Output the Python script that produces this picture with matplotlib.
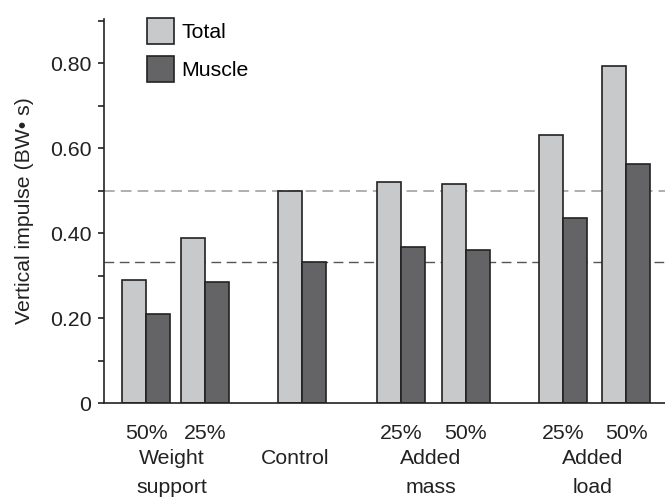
import matplotlib.pyplot as plt
from matplotlib.ticker import MultipleLocator

# impulse per condition (BW*s)
levels = ['50%', '25%', '', '25%', '50%', '25%', '50%']
total = [0.29, 0.39, 0.50, 0.52, 0.515, 0.632, 0.795]
muscle = [0.21, 0.285, 0.333, 0.367, 0.36, 0.435, 0.563]
groups = [('Weight', 'support'), ('Control', ''), ('Added', 'mass'), ('Added', 'load')]

xpos = [0, 0.98, 2.58, 4.24, 5.31, 6.93, 7.98]
group_x = [0.42, 2.47, 4.73, 7.42]
control = 2

light = '#c8c9cb'
dark = '#646466'
ink = '#222222'
w = 0.4
fs = 15.3

plt.rcParams['font.family'] = ['Liberation Sans', 'DejaVu Sans']

fig = plt.figure(figsize=(6.65, 4.97), dpi=100)
ax = fig.add_axes([0.156, 0.189, 0.86, 0.773])

ax.axhline(total[control], color='#9a9a9a', lw=1.1, dashes=(7, 4), zorder=1)
ax.axhline(muscle[control], color='#555555', lw=1.0, dashes=(7, 4), zorder=1)

ax.bar([x - w / 2 for x in xpos], total, width=w, color=light,
       edgecolor=ink, lw=1.2, label='Total', zorder=2)
ax.bar([x + w / 2 for x in xpos], muscle, width=w, color=dark,
       edgecolor=ink, lw=1.2, label='Muscle', zorder=2)

ax.set_xlim(-0.71, 8.8)
ax.set_ylim(0, 0.905)
ax.yaxis.set_minor_locator(MultipleLocator(0.1))
ax.set_yticks([0, 0.2, 0.4, 0.6, 0.8])
ax.set_yticklabels(['0', '0.20', '0.40', '0.60', '0.80'])
ax.tick_params(axis='y', which='both', length=4, width=1.2, direction='out',
               labelsize=fs, pad=5, color=ink, labelcolor=ink)
ax.set_xticks([])
for s in ['top', 'right']:
    ax.spines[s].set_visible(False)
for s in ['left', 'bottom']:
    ax.spines[s].set_linewidth(1.2)
    ax.spines[s].set_color(ink)

ax.set_ylabel('Vertical impulse (BW\u2022 s)', fontsize=fs, labelpad=11, color=ink)

# condition labels under the bars
for x, lab in zip(xpos, levels):
    if lab:
        ax.text(x, -0.071, lab, ha='center', va='center', fontsize=fs,
                color=ink, clip_on=False)
for x, (top, bottom) in zip(group_x, groups):
    ax.text(x, -0.13, top, ha='center', va='center', fontsize=fs,
            color=ink, clip_on=False)
    if bottom:
        ax.text(x, -0.198, bottom, ha='center', va='center', fontsize=fs,
                color=ink, clip_on=False)

ax.legend(loc='upper left', bbox_to_anchor=(0.06, 1.025), frameon=False,
          fontsize=fs, handlelength=1.3, handleheight=1.5,
          handletextpad=0.35, labelspacing=0.6, borderaxespad=0)

fig.savefig('out.png', dpi=100)
